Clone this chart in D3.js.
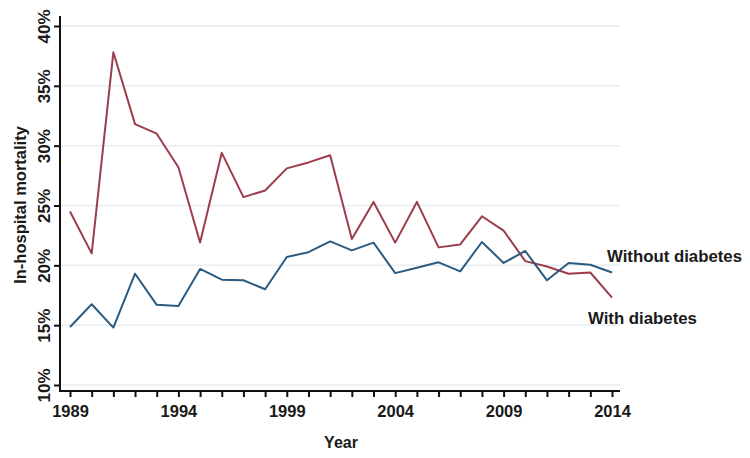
<!DOCTYPE html>
<html>
<head>
<meta charset="utf-8">
<script src="https://cdn.jsdelivr.net/npm/d3@7"></script>
<style>
  body { margin: 0; background: #fff; }
  text { font-family: "Liberation Sans", Arial, sans-serif; font-weight: bold; fill: #1a1a1a; }
</style>
</head>
<body>
<div id="chart"></div>
<script>
// values (in-hospital mortality, %)
var years = d3.range(1989, 2015)
var withDiabetes = [24.5, 21.0, 37.8, 31.8, 31.0, 28.2, 21.9, 29.4, 25.7, 26.25, 28.1, 28.6, 29.2, 22.2, 25.3, 21.9, 25.3, 21.5, 21.75, 24.1, 22.9, 20.35, 19.9, 19.3, 19.4, 17.3]
var withoutDiabetes = [14.85, 16.75, 14.8, 19.3, 16.7, 16.6, 19.7, 18.8, 18.75, 18.0, 20.7, 21.1, 22.0, 21.25, 21.9, 19.35, 19.8, 20.25, 19.5, 21.95, 20.2, 21.2, 18.75, 20.2, 20.05, 19.4]
var yTicks = [10, 15, 20, 25, 30, 35, 40]
var xLabels = [1989, 1994, 1999, 2004, 2009, 2014]

var width = 750, height = 458

var svg = d3.select("#chart").append("svg")
    .attr("width", width)
    .attr("height", height)

var x = d3.scaleLinear().domain([1989, 2014]).range([70, 612])
var y = d3.scaleLinear().domain([10, 40]).range([385, 26])

var axisX = 60, axisY = 391

// gridlines
svg.append("g")
    .selectAll("line")
    .data(yTicks)
    .enter().append("line")
    .attr("x1", axisX + 2)
    .attr("x2", 620)
    .attr("y1", d => y(d))
    .attr("y2", d => y(d))
    .attr("stroke", "#e6eef1")
    .attr("stroke-width", 1.5)

// y axis
var gy = svg.append("g")
    .attr("transform", "translate(" + axisX + ",0)")
    .call(d3.axisLeft(y).tickValues(yTicks).tickSize(6).tickFormat(d => d + "%"))
gy.select(".domain").remove()
gy.selectAll(".tick line").attr("stroke", "#111").attr("stroke-width", 2)
gy.selectAll(".tick text")
    .attr("x", 0).attr("dy", 0)
    .attr("transform", "translate(-10,0) rotate(-90)")
    .style("text-anchor", "middle")
    .style("font-size", "17px")

svg.append("line")
    .attr("x1", axisX).attr("x2", axisX)
    .attr("y1", 16).attr("y2", axisY + 1)
    .attr("stroke", "#111").attr("stroke-width", 2)

// x axis
var gx = svg.append("g")
    .attr("transform", "translate(0," + axisY + ")")
    .call(d3.axisBottom(x).tickValues(years).tickSize(6)
        .tickFormat(d => xLabels.indexOf(d) >= 0 ? d : ""))
gx.select(".domain").remove()
gx.selectAll(".tick line").attr("stroke", "#111").attr("stroke-width", 2)
gx.selectAll(".tick text")
    .attr("y", 26).attr("dy", 0)
    .style("font-size", "16.5px")

svg.append("line")
    .attr("x1", axisX - 1).attr("x2", 620)
    .attr("y1", axisY).attr("y2", axisY)
    .attr("stroke", "#111").attr("stroke-width", 2)

// axis titles
svg.append("text")
    .attr("transform", "translate(20," + 205 + ") rotate(-90)")
    .attr("dy", "0.35em")
    .style("text-anchor", "middle")
    .style("font-size", "16.5px")
    .text("In-hospital mortality")

svg.append("text")
    .attr("x", 341)
    .attr("y", 448)
    .style("text-anchor", "middle")
    .style("font-size", "16px")
    .text("Year")

// lines
var line = d3.line()
    .x((d, i) => x(years[i]))
    .y(d => y(d))

svg.append("path")
    .datum(withDiabetes)
    .attr("fill", "none")
    .attr("stroke", "#9c3d4b")
    .attr("stroke-width", 2)
    .attr("stroke-linejoin", "round")
    .attr("d", line)

svg.append("path")
    .datum(withoutDiabetes)
    .attr("fill", "none")
    .attr("stroke", "#2c5b80")
    .attr("stroke-width", 2)
    .attr("stroke-linejoin", "round")
    .attr("d", line)

// series labels
svg.append("text")
    .attr("x", 607)
    .attr("y", 262)
    .style("font-size", "16.8px")
    .text("Without diabetes")

svg.append("text")
    .attr("x", 588)
    .attr("y", 324)
    .style("font-size", "16.8px")
    .text("With diabetes")
</script>
</body>
</html>
